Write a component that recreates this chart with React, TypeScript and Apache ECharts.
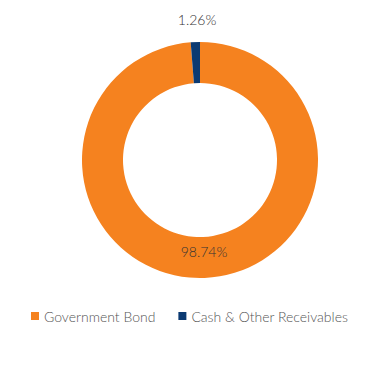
import React, { useEffect, useRef } from "react";
import * as echarts from "echarts";

const categories = ["Government Bond", "Cash & Other Receivables"];
const values = [98.74, 1.26];
const colors = ["#F5821F", "#0B3A72"];

export default function App() {
  const ref = useRef<HTMLDivElement>(null);
  useEffect(() => {
    const chart = echarts.init(ref.current!, null, { renderer: "svg" });
    chart.setOption({
      animation: false,
      color: colors,
      textStyle: { fontFamily: "Lato" },
      legend: {
        top: 301,
        left: 23,
        width: 330,
        padding: 0,
        itemWidth: 8,
        itemHeight: 8,
        itemGap: 23,
        icon: "rect",
        textStyle: { fontSize: 14, color: "#555", fontFamily: "Lato", fontWeight: 300 },
        data: categories,
      },
      series: [
        {
          type: "pie",
          center: [192, 152],
          radius: [77, 118],
          startAngle: 90,
          clockwise: true,
          labelLine: { show: false },
          data: categories.map((c, i) => ({
            name: c,
            value: values[i],
            label:
              i === 0
                ? { position: "inside", offset: [0, -9] }
                : { position: "inside", offset: [1, -40.5] },
          })),
          label: {
            formatter: (p: any) => p.value.toFixed(2) + "%",
            color: "#333",
            fontSize: 14,
            fontFamily: "Lato",
            fontWeight: 300,
          },
        },
      ],
    });
    return () => chart.dispose();
  }, []);
  return <div ref={ref} style={{ width: 353, height: 374 }} />;
}
